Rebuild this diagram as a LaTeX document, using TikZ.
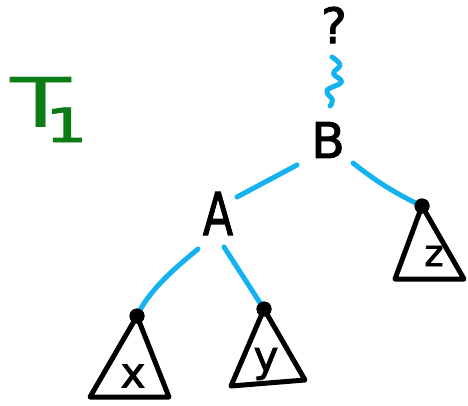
\documentclass[tikz,border=0pt]{standalone}
\usepackage{fontspec}
\setmainfont{DejaVu Sans}
\newfontfamily\handfont[FakeBold=2]{DejaVu Sans}
\definecolor{edgecyan}{RGB}{20,178,238}
\definecolor{tgreen}{RGB}{12,125,20}
\begin{document}
\begin{tikzpicture}[x=1pt,y=-1pt,
  edgeline/.style={draw=edgecyan,line width=5pt,line cap=round,line join=round},
  tri/.style={draw=black,line width=5pt,line join=round,line cap=round},
  dotn/.style={circle,fill=black,inner sep=0pt,minimum size=15pt},
  lbl/.style={inner sep=0pt,text=black}]
\useasboundingbox (0,0) rectangle (468,405);
% title
\node[anchor=base west,inner sep=0pt,text=tgreen] (title) at (10,127)
  {\fontsize{69}{69}\selectfont\scalebox{1.45}[1]{T}\kern-26pt\raisebox{-15pt}{\handfont\fontsize{47}{47}\selectfont\scalebox{1.4}[1]{1}}};
% labels
\node[lbl,font=\handfont\fontsize{49}{49}\selectfont] (q) at (334,25) {?};
\node[lbl,font=\handfont\fontsize{49}{49}\selectfont] (B) at (328,140) {B};
\node[lbl,font=\handfont\fontsize{59}{59}\selectfont] (A) at (218,213.5) {\scalebox{0.75}[1]{A}};
% dots
\node[dotn] (xd) at (137,316) {};
\node[dotn] (yd) at (264,309) {};
\node[dotn] (zd) at (422,206) {};
% triangles
\draw[tri] (xd.center) -- (90,397) -- (169,397) -- cycle;
\draw[tri] (yd.center) -- (231,386) -- (305,380) -- cycle;
\draw[tri] (zd.center) -- (395,279) -- (464,279) -- cycle;
\node[lbl,font=\handfont\fontsize{42}{42}\selectfont] (xl) at (133,376) {x};
\node[lbl,font=\handfont\fontsize{42}{42}\selectfont] (yl) at (266,364) {y};
\node[lbl,font=\handfont\fontsize{37}{37}\selectfont] (zl) at (434,256) {z};
% connector ends
\coordinate (wtop) at (332,57);
\coordinate (wbot) at (330,106);
\coordinate (bA) at (297,165);
\coordinate (aB) at (237,197);
\coordinate (bZ) at (353,163);
\coordinate (aX) at (198,249);
\coordinate (aY) at (224,247);
% connectors
\draw[edgeline] plot[smooth,tension=0.7] coordinates {(wtop) (340,65) (333.5,73.5) (341.5,82) (327,90.5) (332.5,100) (wbot)};
\draw[edgeline] (bA) -- (aB);
\draw[edgeline] (bZ) .. controls (372,178) and (392,192) .. (zd.center);
\draw[edgeline] (aX) .. controls (180,264) and (150,288) .. (xd.center);
\draw[edgeline] (aY) -- (yd.center);
\node[dotn] at (xd) {};
\node[dotn] at (yd) {};
\node[dotn] at (zd) {};
\end{tikzpicture}
\end{document}
